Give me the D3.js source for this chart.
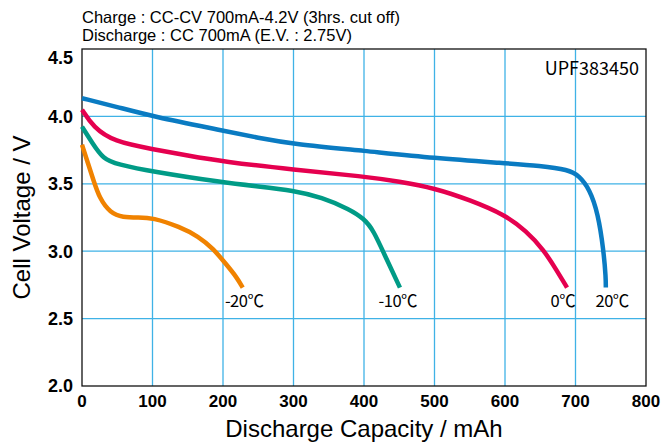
<!DOCTYPE html>
<html>
<head>
<meta charset="utf-8">
<script src="https://cdn.jsdelivr.net/npm/d3@7"></script>
<style>
  body { margin: 0; background: #fff; }
  svg { display: block; }
</style>
</head>
<body>
<div id="chart"></div>
<script>
// discharge curves, capacity (mAh) vs voltage (V)
var cap20 = [0, 50, 100, 200, 250, 300, 400, 500, 600, 650, 690, 705, 720, 732, 740, 743, 743];
var volt20 = [4.135, 4.07, 4.0, 3.895, 3.84, 3.795, 3.745, 3.69, 3.653, 3.633, 3.605, 3.56, 3.46, 3.28, 3.0, 2.8, 2.73];

var cap0 = [0, 16, 45, 100, 150, 200, 300, 400, 450, 500, 550, 600, 630, 655, 673, 688];
var volt0 = [4.05, 3.92, 3.813, 3.757, 3.71, 3.665, 3.605, 3.555, 3.517, 3.468, 3.38, 3.27, 3.15, 3.01, 2.86, 2.73];

var capM10 = [0, 15, 30, 50, 100, 200, 250, 300, 340, 380, 400, 413, 432, 451];
var voltM10 = [3.924, 3.8, 3.685, 3.645, 3.59, 3.51, 3.48, 3.45, 3.40, 3.31, 3.24, 3.16, 2.94, 2.73];

var capM20 = [0, 8, 16, 25, 40, 58, 80, 100, 139, 165, 186, 205, 219, 228];
var voltM20 = [3.79, 3.66, 3.53, 3.39, 3.285, 3.25, 3.25, 3.25, 3.18, 3.11, 3.02, 2.9, 2.81, 2.73];

var seriesNames = ['20℃', '0℃', '-10℃', '-20℃'];
var seriesColors = ['#0a7bc2', '#e5004f', '#009b86', '#f08200'];
var labelCaps = [752, 682, 448, 230]; // where the name sits along x

var xTicks = [0, 100, 200, 300, 400, 500, 600, 700, 800];
var yTicks = [2.0, 2.5, 3.0, 3.5, 4.0, 4.5];

var width = 663, height = 442;
// plot box (window.top is reserved, so prefixed names)
var pLeft = 82, pRight = 646, pTop = 49, pBottom = 386;

var svg = d3.select('#chart').append('svg')
  .attr('width', width).attr('height', height);

var x = d3.scaleLinear().domain([0, 800]).range([pLeft, pRight]);
var y = d3.scaleLinear().domain([2.0, 4.5]).range([pBottom, pTop]);

// grid
svg.append('g').selectAll('line')
  .data(xTicks.slice(1, -1))
  .enter().append('line')
  .attr('x1', d => x(d)).attr('x2', d => x(d))
  .attr('y1', pTop).attr('y2', pBottom)
  .attr('stroke', '#3fb2e6').attr('stroke-width', 1.3);

svg.append('g').selectAll('line')
  .data(yTicks.slice(1, -1))
  .enter().append('line')
  .attr('x1', pLeft).attr('x2', pRight)
  .attr('y1', d => y(d)).attr('y2', d => y(d))
  .attr('stroke', '#3fb2e6').attr('stroke-width', 1.3);

// frame
svg.append('rect')
  .attr('x', pLeft).attr('y', pTop)
  .attr('width', pRight - pLeft).attr('height', pBottom - pTop)
  .attr('fill', 'none').attr('stroke', '#111').attr('stroke-width', 1.3);

// tick labels
svg.append('g').selectAll('text')
  .data(xTicks)
  .enter().append('text')
  .attr('x', d => x(d)).attr('y', pBottom + 21)
  .attr('text-anchor', 'middle')
  .attr('font-family', 'Liberation Sans, Arial, sans-serif')
  .attr('font-weight', 'bold').attr('font-size', 17)
  .text(d => d);

svg.append('g').selectAll('text')
  .data(yTicks)
  .enter().append('text')
  .attr('x', pLeft - 9)
  .attr('y', d => y(d) + (d === 4.5 ? 9 : 0))
  .attr('dy', '0.36em')
  .attr('text-anchor', 'end')
  .attr('font-family', 'Liberation Sans, Arial, sans-serif')
  .attr('font-weight', 'bold').attr('font-size', 18)
  .text(d => d.toFixed(1));

// axis titles
svg.append('text')
  .attr('x', (pLeft + pRight) / 2).attr('y', 437)
  .attr('text-anchor', 'middle')
  .attr('font-family', 'Liberation Sans, Arial, sans-serif')
  .attr('font-size', 24)
  .text('Discharge Capacity / mAh');

svg.append('text')
  .attr('transform', 'translate(30,' + ((pTop + pBottom) / 2) + ') rotate(-90)')
  .attr('text-anchor', 'middle')
  .attr('font-family', 'Liberation Sans, Arial, sans-serif')
  .attr('font-size', 24)
  .text('Cell Voltage / V');

// conditions
svg.append('text')
  .attr('x', pLeft).attr('y', 23)
  .attr('font-family', 'Liberation Sans, Arial, sans-serif').attr('font-size', 16.5)
  .text('Charge : CC-CV 700mA-4.2V (3hrs. cut off)');
svg.append('text')
  .attr('x', pLeft).attr('y', 41)
  .attr('font-family', 'Liberation Sans, Arial, sans-serif').attr('font-size', 16.5)
  .text('Discharge : CC 700mA (E.V. : 2.75V)');

svg.append('text')
  .attr('x', 639).attr('y', 75)
  .attr('text-anchor', 'end')
  .attr('font-family', 'Noto Sans CJK JP, sans-serif').attr('font-size', 18)
  .text('UPF383450');

// curves
var curves = [
  d3.zip(cap20, volt20),
  d3.zip(cap0, volt0),
  d3.zip(capM10, voltM10),
  d3.zip(capM20, voltM20)
];

var line = d3.line()
  .x(d => x(d[0]))
  .y(d => y(d[1]))
  .curve(d3.curveBasis);

svg.append('g').selectAll('path')
  .data(curves)
  .enter().append('path')
  .attr('d', line)
  .attr('fill', 'none')
  .attr('stroke', (d, i) => seriesColors[i])
  .attr('stroke-width', 4.5)
  .attr('stroke-linecap', 'butt');

svg.append('g').selectAll('text')
  .data(seriesNames)
  .enter().append('text')
  .attr('x', (d, i) => x(labelCaps[i]))
  .attr('y', 307)
  .attr('text-anchor', 'middle')
  .attr('font-family', 'Noto Sans CJK JP, sans-serif').attr('font-size', 16.5)
  .attr('letter-spacing', -0.5)
  .text(d => d);
</script>
</body>
</html>
